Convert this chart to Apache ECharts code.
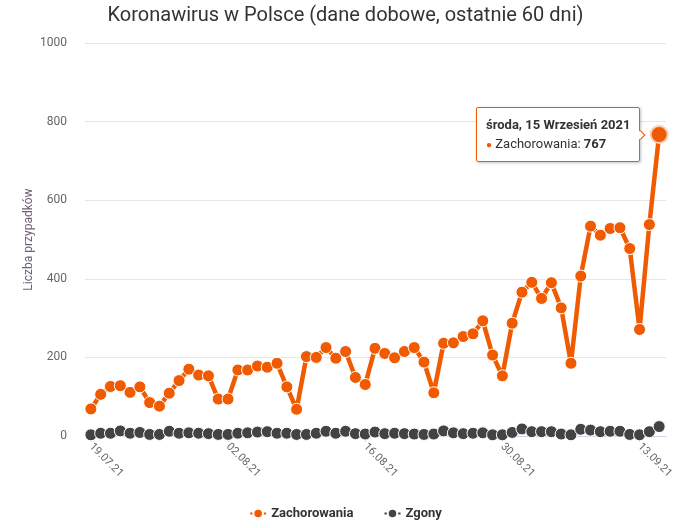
<!DOCTYPE html>
<html><head><meta charset="utf-8">
<script src="https://cdn.jsdelivr.net/npm/echarts@6/dist/echarts.min.js"></script>
<style>html,body{margin:0;padding:0;background:#fff}#c{width:691px;height:528px}</style>
</head><body><div id="c"></div>
<script>
const startDate = '2021-07-19';
const zachorowania = [69,106,126,128,111,125,85,76,109,141,170,155,153,94,94,168,168,178,175,185,125,68,202,200,225,198,215,149,131,223,210,199,215,225,188,110,236,237,253,260,293,206,153,287,366,391,350,390,326,185,407,534,511,528,530,477,271,538,767];
const zgony = [3,7,7,13,7,9,4,4,12,7,8,7,6,4,4,7,8,10,11,7,7,4,4,7,12,7,12,6,5,10,6,7,6,5,4,5,13,8,6,7,8,3,3,9,18,11,11,11,5,3,17,15,11,12,12,4,3,11,24];
const xTickIdx = [0,14,28,42,56];
const dniTygodnia = ['niedziela','poniedziałek','wtorek','środa','czwartek','piątek','sobota'];
const miesiace = ['Styczeń','Luty','Marzec','Kwiecień','Maj','Czerwiec','Lipiec','Sierpień','Wrzesień','Październik','Listopad','Grudzień'];

const ORANGE = '#f05a00', GREY = '#434343';
function dateOf(i){ const d = new Date(startDate+'T00:00:00Z'); d.setUTCDate(d.getUTCDate()+i); return d; }
function pad(n){ return (n<10?'0':'')+n; }
function shortLabel(i){ const d=dateOf(i); return pad(d.getUTCDate())+'.'+pad(d.getUTCMonth()+1)+'.'+String(d.getUTCFullYear()).slice(2); }
function longLabel(i){ const d=dateOf(i); return dniTygodnia[d.getUTCDay()]+', '+d.getUTCDate()+' '+miesiace[d.getUTCMonth()]+' '+d.getUTCFullYear(); }

const last = zachorowania.length-1;
const zData = zachorowania.map((v,i)=> i===last ? {value:[i,v], symbolSize:17, itemStyle:{borderColor:'rgba(250,205,180,1)', borderWidth:2}} : [i,v]);
const gData = zgony.map((v,i)=>[i,v]);

const chart = echarts.init(document.getElementById('c'), null, {renderer:'canvas'});
chart.setOption({
  animation:false,
  textStyle:{fontFamily:'Roboto'},
  title:{text:'Koronawirus w Polsce (dane dobowe, ostatnie 60 dni)', left:'center', top:1,
    textStyle:{fontFamily:'Roboto', fontSize:20, fontWeight:'normal', color:'#333'}},
  grid:{left:85, right:25, top:43, bottom:92},
  xAxis:{type:'value', min:-0.6, max:58.7,
    axisLine:{show:true, lineStyle:{color:'#ccd6eb'}},
    axisTick:{show:true, customValues:xTickIdx, length:6, lineStyle:{color:'#ccd6eb'}},
    axisLabel:{customValues:xTickIdx, rotate:-45, color:'#666', fontSize:11, margin:9,
      formatter:(v)=>shortLabel(Math.round(v))},
    splitLine:{show:false}},
  yAxis:{type:'value', min:0, max:1000, interval:200,
    name:'Liczba przypadków', nameLocation:'middle', nameGap:50, nameRotate:90, nameMoveOverlap:false,
    nameTextStyle:{color:'#6f5f7a', fontSize:12},
    axisLabel:{color:'#666', fontSize:12, margin:18, formatter:(v)=>String(v)},
    axisLine:{show:false}, axisTick:{show:false},
    splitLine:{lineStyle:{color:'#e6e6e6'}}},
  legend:{bottom:3, left:'center', itemGap:30, itemWidth:16, itemHeight:12,
    textStyle:{fontWeight:'bold', color:'#333', fontSize:13},
    data:['Zachorowania','Zgony']},
  tooltip:{trigger:'item', alwaysShowContent:true, position:'left', renderMode:'html',
    backgroundColor:'rgba(255,255,255,0.97)', borderColor:ORANGE, borderWidth:1, padding:[7,9],
    textStyle:{color:'#333', fontSize:13, fontFamily:'Roboto'},
    extraCssText:'box-shadow:1px 1px 3px rgba(0,0,0,0.25);border-radius:2px;line-height:19px;',
    formatter:(p)=>'<b>'+longLabel(p.value[0])+'</b><br/><span style="color:'+p.color+';font-size:10px">●</span> '+p.seriesName+': <b>'+p.value[1]+'</b>'},
  series:[
    {name:'Zgony', type:'line', data:gData, z:2, color:GREY,
      symbol:'circle', symbolSize:12, lineStyle:{width:4, color:GREY},
      itemStyle:{color:GREY, borderColor:'#fff', borderWidth:1}},
    {name:'Zachorowania', type:'line', data:zData, z:3, color:ORANGE,
      symbol:'circle', symbolSize:12, lineStyle:{width:4.5, color:ORANGE},
      itemStyle:{color:ORANGE, borderColor:'#fff', borderWidth:1}}
  ]
});
chart.dispatchAction({type:'showTip', seriesIndex:1, dataIndex:last});
</script></body></html>
